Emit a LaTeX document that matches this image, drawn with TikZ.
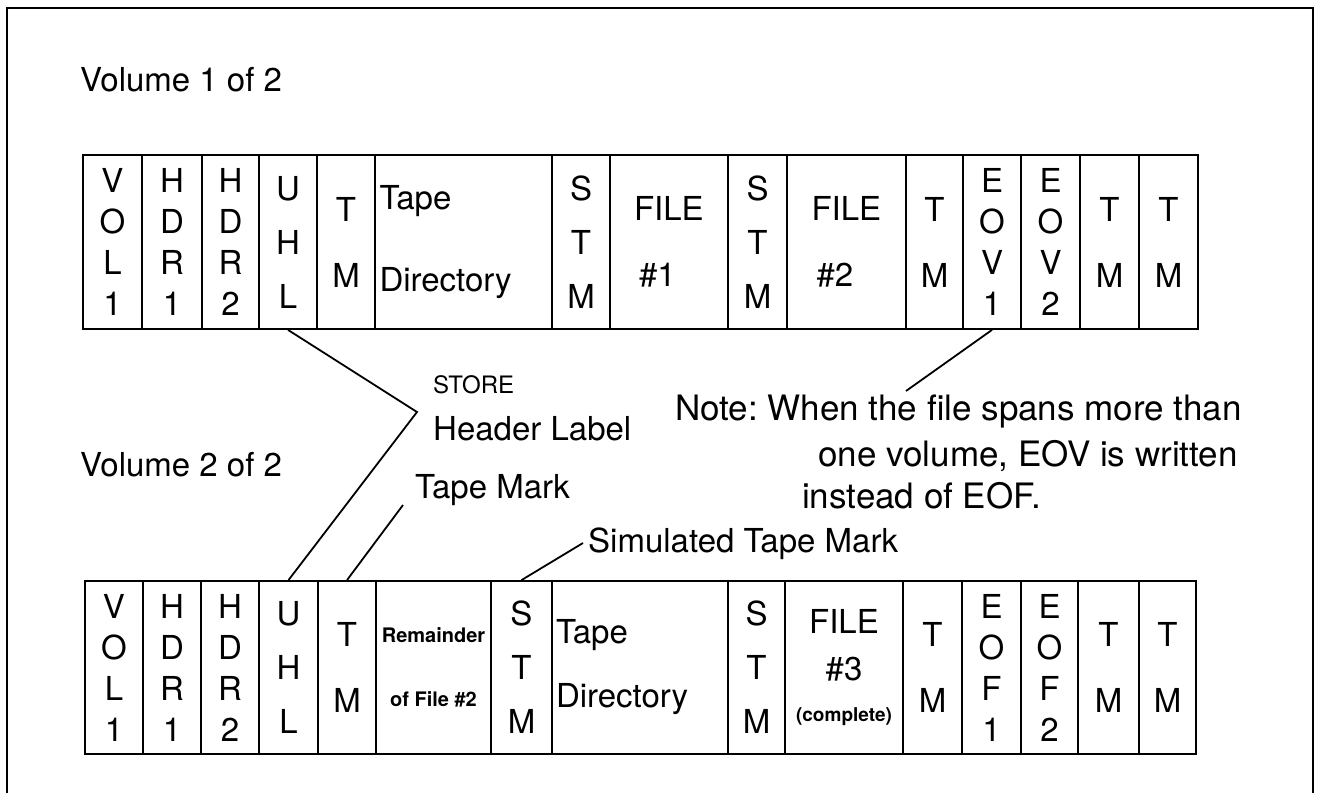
\documentclass[tikz,border=0pt]{standalone}
\usepackage{fontspec}
\setmainfont{TeX Gyre Heros}
\frenchspacing
\newcommand\tc[5][]{\node[cell,minimum width={#3-#2},#1] (#4) at ({(#2+#3)/2},\ry) {#5};}
\begin{document}
\begin{tikzpicture}[x=1pt,y=-1pt,
  cell/.style={draw, line width=1.8pt, inner sep=0pt, align=center, minimum height=\rh},
  c4/.style={font=\fontsize{33}{41}\selectfont},
  c3/.style={font=\fontsize{33}{54}\selectfont},
  c2/.style={font=\fontsize{33}{66}\selectfont},
  lbl/.style={anchor=base west, inner sep=0pt, font=\fontsize{33}{40}\selectfont},
  note/.style={anchor=base west, inner sep=0pt, font=\fontsize{35}{40}\selectfont},
  leader/.style={line width=1.8pt}]
\useasboundingbox (0,0) rectangle (1318,793);
\draw[line width=2pt] (7,793) -- (7,8) -- (1313,8) -- (1313,793);

\node[lbl] (v1) at (80,91) {Volume 1 of 2};
\node[lbl] (v2) at (80,476) {Volume 2 of 2};

% top tape
\def\ry{242}\def\rh{174}
\tc[c4]{83}{142}{vol}{V\\O\\L\\1}
\tc[c4]{142}{202}{hdra}{H\\D\\R\\1}
\tc[c4]{202}{259}{hdrb}{H\\D\\R\\2}
\tc[c3]{259}{317}{uhl}{U\\H\\L}
\tc[c2]{317}{375}{tma}{T\\M}
\tc[font=\fontsize{33}{82}\selectfont, text width=168, align=left]{375}{552}{dir}{Tape\\Directory}
\tc[c3]{552}{610}{stma}{S\\T\\M}
\tc[c2, text width=70, align=left]{610}{728}{filea}{FILE\\\hspace*{5pt}\#1}
\tc[c3]{728}{787}{stmb}{S\\T\\M}
\tc[c2, text width=70, align=left]{787}{906}{fileb}{FILE\\\hspace*{5pt}\#2}
\tc[c2]{906}{963}{tmb}{T\\M}
\tc[c4]{963}{1021}{eova}{E\\O\\V\\1}
\tc[c4]{1021}{1080}{eovb}{E\\O\\V\\2}
\tc[c2]{1080}{1139}{tmc}{T\\M}
\tc[c2]{1139}{1198}{tmd}{T\\M}

% bottom tape
\def\ry{667.5}\def\rh{173}
\tc[c4]{85}{143}{vol2}{V\\O\\L\\1}
\tc[c4]{143}{201}{hdr2a}{H\\D\\R\\1}
\tc[c4]{201}{259}{hdr2b}{H\\D\\R\\2}
\tc[c3]{259}{318}{uhl2}{U\\H\\L}
\tc[c2]{318}{376}{tm2a}{T\\M}
\tc[font=\fontsize{20}{64}\selectfont\bfseries]{376}{491}{rem}{Remainder\\of File \#2}
\tc[c3]{491}{552}{stm2a}{S\\T\\M}
\tc[font=\fontsize{33}{64}\selectfont, text width=168, align=left]{552}{728}{dir2}{Tape\\Directory}
\tc[c3]{728}{785}{stm2b}{S\\T\\M}
\tc[font=\fontsize{33}{47}\selectfont]{785}{903}{file3}{FILE\\\#3\\[-6pt]{\fontsize{19}{20}\selectfont\bfseries (complete)}}
\tc[c2]{903}{962}{tm2b}{T\\M}
\tc[c4]{962}{1021}{eofa}{E\\O\\F\\1}
\tc[c4]{1021}{1078}{eofb}{E\\O\\F\\2}
\tc[c2]{1078}{1139}{tm2c}{T\\M}
\tc[c2]{1139}{1196}{tm2d}{T\\M}

% labels
\node[anchor=base west, inner sep=0pt, font=\fontsize{24}{26}\selectfont] (store) at (433,393) {STORE};
\node[lbl] (hdl) at (433,440) {Header Label};
\node[lbl] (tmkl) at (415,498) {Tape Mark};
\node[lbl] (siml) at (588,552) {Simulated Tape Mark};
\node[note] (n1) at (675,420) {Note: When the file spans more than};
\node[note] (n2) at (818,466) {one volume, EOV is written};
\node[note] (n3) at (802,508) {instead of EOF.};

% leaders
\coordinate (j) at (417,412);
\coordinate (tmk) at (403,505);
\coordinate (smk) at (583,543);
\coordinate (nt) at (906,391);
\draw[leader] (uhl.south) -- (j) -- (uhl2.north);
\draw[leader] (tmk) -- (tm2a.north);
\draw[leader] (smk) -- (stm2a.north);
\draw[leader] (eova.south) -- (nt);
\end{tikzpicture}
\end{document}
